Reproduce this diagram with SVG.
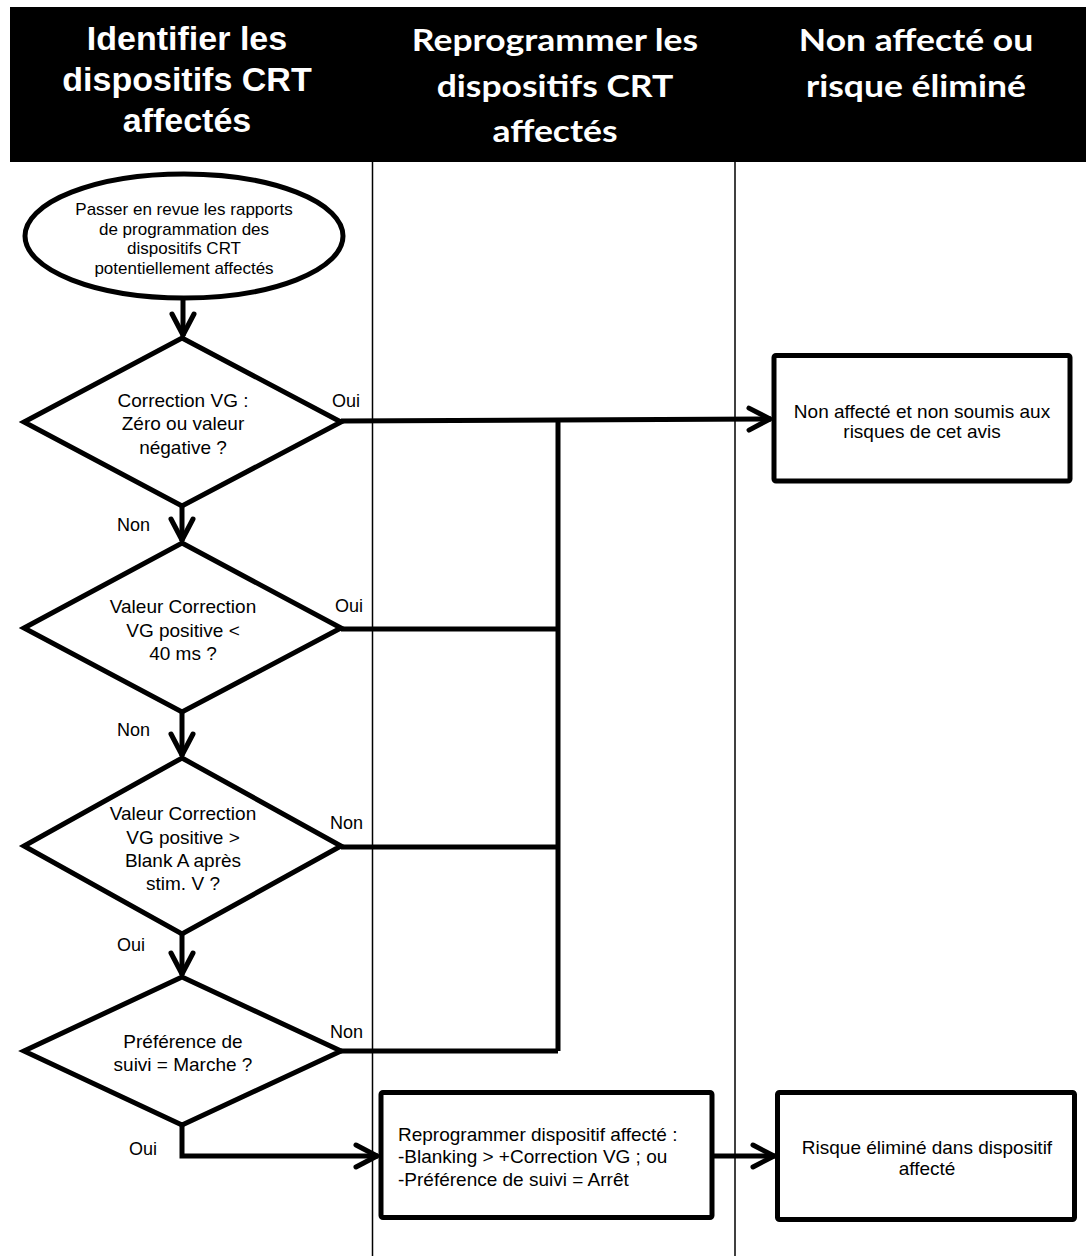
<svg xmlns="http://www.w3.org/2000/svg" width="1086" height="1256" viewBox="0 0 1086 1256">
<style>
.hd1{font-family:"Liberation Sans",Arial,sans-serif;font-weight:bold;font-size:34px;fill:#fff;text-anchor:middle}
.hd2{font-family:Lato,"Liberation Sans",sans-serif;font-weight:bold;font-size:31px;fill:#fff;text-anchor:middle}
.lane{stroke:#000;stroke-width:1.5;fill:none}
.shape{fill:#fff;stroke:#000;stroke-width:5}
.t{font-family:"Liberation Sans",Arial,sans-serif;font-size:19px;fill:#000;text-anchor:middle}
.ts{font-family:"Liberation Sans",Arial,sans-serif;font-size:17px;fill:#000;text-anchor:middle}
.tl{font-family:"Liberation Sans",Arial,sans-serif;font-size:19px;fill:#000}
.lbl{font-family:"Liberation Sans",Arial,sans-serif;font-size:18px;fill:#000}
.c{fill:none;stroke:#000;stroke-width:5}
</style>
<defs>
<marker id="arr" markerUnits="userSpaceOnUse" viewBox="-26 -14 30 28" refX="0" refY="0" markerWidth="30" markerHeight="28" orient="auto">
<path d="M-22,-11 L-1,0 L-22,11" fill="none" stroke="#000" stroke-width="5" stroke-linecap="round" stroke-linejoin="round"/>
</marker>
</defs>
<rect width="1086" height="1256" fill="#fff"/>
<g id="header">
<rect x="10" y="7" width="1076" height="155" fill="#000"/>
<text class="hd1" x="187" y="50">Identifier les</text>
<text class="hd1" x="187" y="91">dispositifs CRT</text>
<text class="hd1" x="187" y="132">affectés</text>
<text class="hd2" transform="translate(555,51) scale(1.145,1)">Reprogrammer les</text>
<text class="hd2" transform="translate(555,97) scale(1.145,1)">dispositifs CRT</text>
<text class="hd2" transform="translate(555,142) scale(1.145,1)">affectés</text>
<text class="hd2" transform="translate(916,51) scale(1.145,1)">Non affecté ou</text>
<text class="hd2" transform="translate(916,97) scale(1.145,1)">risque éliminé</text>
</g>
<g id="lanes">
<line class="lane" x1="372.5" y1="162" x2="372.5" y2="1256"/>
<line class="lane" x1="735" y1="162" x2="735" y2="1256"/>
</g>
<g id="connectors">
<path class="c" d="M183,298 L183,336" marker-end="url(#arr)"/>
<path class="c" d="M182,506 L182,541" marker-end="url(#arr)"/>
<path class="c" d="M182,712 L182,756" marker-end="url(#arr)"/>
<path class="c" d="M182,934 L182,975" marker-end="url(#arr)"/>
<path class="c" d="M341,421 L558,420 L771,419" marker-end="url(#arr)"/>
<path class="c" d="M558,419 L558,1051"/>
<path class="c" d="M341,629 L558,629"/>
<path class="c" d="M341,847 L558,847"/>
<path class="c" d="M341,1051 L558,1051"/>
<path class="c" d="M182,1125 L182,1156 L378,1156" marker-end="url(#arr)"/>
<path class="c" d="M712,1156 L775,1156" marker-end="url(#arr)"/>
<text class="lbl" x="332" y="407">Oui</text>
<text class="lbl" x="117" y="531">Non</text>
<text class="lbl" x="335" y="612">Oui</text>
<text class="lbl" x="117" y="736">Non</text>
<text class="lbl" x="330" y="829">Non</text>
<text class="lbl" x="117" y="951">Oui</text>
<text class="lbl" x="330" y="1038">Non</text>
<text class="lbl" x="129" y="1155">Oui</text>
</g>
<g id="start">
<ellipse class="shape" cx="184" cy="236" rx="159" ry="62"/>
<text class="ts" x="184" y="215">Passer en revue les rapports</text>
<text class="ts" x="184" y="234.5">de programmation des</text>
<text class="ts" x="184" y="254">dispositifs CRT</text>
<text class="ts" x="184" y="274">potentiellement affectés</text>
</g>
<g id="d1">
<polygon class="shape" points="182,338 341,422 182,506 24,422"/>
<text class="t" x="183" y="407">Correction VG :</text>
<text class="t" x="183" y="430">Zéro ou valeur</text>
<text class="t" x="183" y="454">négative ?</text>
</g>
<g id="d2">
<polygon class="shape" points="182,543 341,628 182,712 24,628"/>
<text class="t" x="183" y="613">Valeur Correction</text>
<text class="t" x="183" y="637">VG positive &lt;</text>
<text class="t" x="183" y="660">40 ms ?</text>
</g>
<g id="d3">
<polygon class="shape" points="182,758 341,846 182,934 24,846"/>
<text class="t" x="183" y="820">Valeur Correction</text>
<text class="t" x="183" y="844">VG positive &gt;</text>
<text class="t" x="183" y="867">Blank A après</text>
<text class="t" x="183" y="890">stim. V ?</text>
</g>
<g id="d4">
<polygon class="shape" points="182,977 341,1051 182,1125 24,1051"/>
<text class="t" x="183" y="1048">Préférence de</text>
<text class="t" x="183" y="1071">suivi = Marche ?</text>
</g>
<g id="notaffected">
<rect class="shape" x="774" y="355.5" width="296" height="125.5" rx="2"/>
<text class="t" x="922" y="418">Non affecté et non soumis aux</text>
<text class="t" x="922" y="438">risques de cet avis</text>
</g>
<g id="reprogram">
<rect class="shape" x="381" y="1092.5" width="331" height="125" rx="2"/>
<text class="tl" x="398" y="1141">Reprogrammer dispositif affecté :</text>
<text class="tl" x="398" y="1163">-Blanking &gt; +Correction VG ; ou</text>
<text class="tl" x="398" y="1186">-Préférence de suivi = Arrêt</text>
</g>
<g id="eliminated">
<rect class="shape" x="777.5" y="1092.5" width="297" height="127" rx="2"/>
<text class="t" x="927" y="1154">Risque éliminé dans dispositif</text>
<text class="t" x="927" y="1175">affecté</text>
</g>
</svg>
